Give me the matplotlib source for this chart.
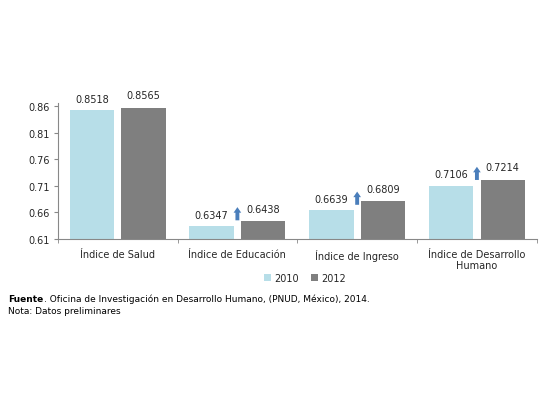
import matplotlib
matplotlib.use("Agg")
import matplotlib.pyplot as plt
import numpy as np
from matplotlib.transforms import offset_copy

categories = ["Índice de Salud", "Índice de Educación", "Índice de Ingreso", "Índice de Desarrollo\nHumano"]
series_names = ["2010", "2012"]
values_2010 = [0.8518, 0.6347, 0.6639, 0.7106]
values_2012 = [0.8565, 0.6438, 0.6809, 0.7214]
labels_2010 = ["0.8518", "0.6347", "0.6639", "0.7106"]
labels_2012 = ["0.8565", "0.6438", "0.6809", "0.7214"]
arrow_flags = [False, True, True, True]
yticks = [0.61, 0.66, 0.71, 0.76, 0.81, 0.86]

c2010 = "#B7DEE8"
c2012 = "#7F7F7F"
arrow_c = "#4A7EBB"
txt_c = "#262626"

plt.rcParams['font.family'] = ['DejaVu Sans']
fig = plt.figure(figsize=(5.5, 4.1), dpi=100)
ax = fig.add_axes([0.105, 0.4146, 0.871, 0.332])

x = np.arange(len(categories))
w = 0.37
off = 0.215
b1 = ax.bar(x - off, values_2010, w, color=c2010, label=series_names[0])
b2 = ax.bar(x + off, values_2012, w, color=c2012, label=series_names[1])

ax.set_ylim(0.61, 0.866)
ax.set_xlim(-0.5, 3.5)
ax.set_yticks(yticks)
ax.set_yticklabels([f"{t:.2f}" for t in yticks], fontsize=7, color=txt_c)
ax.set_xticks(x)
ax.set_xticklabels(categories, fontsize=7, color=txt_c)
ax.set_xticks(np.arange(-0.5, 4.0, 1.0), minor=True)
ax.tick_params(axis='x', which='major', length=0, pad=7)
ax.tick_params(axis='x', which='minor', length=3, color="#888888")
ax.tick_params(axis='y', length=3, color="#888888", pad=3)

for s in ["top", "right"]:
    ax.spines[s].set_visible(False)
for s in ["left", "bottom"]:
    ax.spines[s].set_color("#888888")
    ax.spines[s].set_linewidth(0.8)

for rect, lab in zip(b1, labels_2010):
    ax.annotate(lab, (rect.get_x() + rect.get_width() / 2, rect.get_height()),
                xytext=(0, 8), textcoords="offset points", ha="center", va="center",
                fontsize=7, color=txt_c)
for rect, lab in zip(b2, labels_2012):
    ax.annotate(lab, (rect.get_x() + rect.get_width() / 2, rect.get_height()),
                xytext=(0, 9), textcoords="offset points", ha="center", va="center",
                fontsize=7, color=txt_c)

t1 = offset_copy(ax.transData, fig=fig, x=0, y=4.0, units="points")
t2 = offset_copy(ax.transData, fig=fig, x=0, y=13.5, units="points")
for xi, v, flag in zip(x, values_2010, arrow_flags):
    if flag:
        ax.annotate("", xy=(xi, v), xycoords=t2, xytext=(xi, v), textcoords=t1,
                    arrowprops=dict(arrowstyle="simple,head_length=0.4,head_width=0.55,tail_width=0.28",
                                    color=arrow_c, lw=0, shrinkA=0, shrinkB=0))

fig.legend(handles=[b1, b2], labels=series_names, loc="center",
           bbox_to_anchor=(0.555, 0.32), ncol=2, frameon=False, fontsize=7,
           handlelength=0.7, handleheight=0.7, handletextpad=0.4, columnspacing=1.2,
           labelcolor=txt_c)

tf = fig.text(0.015, 0.263, "Fuente", fontsize=6.5, fontweight="bold", color="black")
fig.text(0, 0, ". Oficina de Investigación en Desarrollo Humano, (PNUD, México), 2014.",
         fontsize=6.5, color="black",
         transform=offset_copy(fig.transFigure, fig=fig, x=0, y=0, units="points"))
fig.texts[-1].remove()
ax.annotate(". Oficina de Investigación en Desarrollo Humano, (PNUD, México), 2014.",
            xy=(1, 0), xycoords=tf, va="bottom", ha="left", fontsize=6.5, color="black",
            annotation_clip=False)
fig.text(0.015, 0.233, "Nota: Datos preliminares", fontsize=6.5, color="black")

fig.savefig("out.png", dpi=100, facecolor="white")
